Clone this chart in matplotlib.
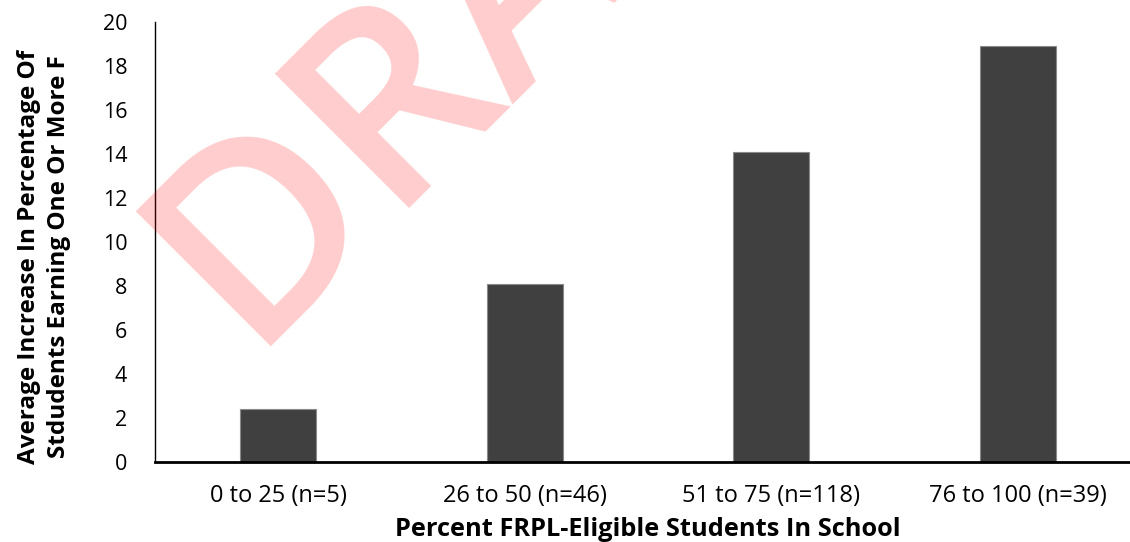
import matplotlib
matplotlib.use("Agg")
import matplotlib.pyplot as plt

categories = ["0 to 25 (n=5)", "26 to 50 (n=46)", "51 to 75 (n=118)", "76 to 100 (n=39)"]
avg_increase = [2.42, 8.09, 14.1, 18.92]
y_ticks = [0, 2, 4, 6, 8, 10, 12, 14, 16, 18, 20]

plt.rcParams["font.family"] = ["Open Sans", "DejaVu Sans"]

fig = plt.figure(figsize=(11.3, 5.42), dpi=100)
# plot area runs past the right edge, as in the exported chart
ax = fig.add_axes([155 / 1130, 80 / 542, 986 / 1130, 440 / 542])

x = range(len(categories))
ax.bar(x, avg_increase, width=0.31, color="#404040", edgecolor="#8a8a8a",
       linewidth=0.8, zorder=2)

ax.set_xlim(-0.5, 3.5)
ax.set_ylim(0, 20)
ax.set_yticks(y_ticks)
ax.set_xticks(list(x))
ax.set_xticklabels(categories)
ax.tick_params(axis="both", length=0, colors="black")
ax.tick_params(axis="y", labelsize=15.5, pad=20)
ax.tick_params(axis="x", labelsize=17, pad=16)

for side in ("top", "right"):
    ax.spines[side].set_visible(False)
ax.spines["left"].set_linewidth(1.0)
ax.spines["bottom"].set_linewidth(2.0)

ax.set_xlabel("Percent FRPL-Eligible Students In School", fontsize=18.3,
              fontweight="bold", labelpad=6)

# two-line y title, centred a little below the middle of the plot
fig.text(44 / 1130, 1 - 257 / 542,
         "Average Increase In Percentage Of\nStdudents Earning One Or More F",
         fontsize=17.5, fontweight="bold", linespacing=1.3, rotation=90,
         ha="center", va="center", multialignment="center")

# watermark across the plot
fig.text(246 / 1130, 1 - 347 / 542, "DRAFT", fontsize=193, fontweight="semibold",
         color="red", alpha=0.2, rotation=45, rotation_mode="anchor",
         ha="left", va="baseline", zorder=10)

fig.savefig("out.png", dpi=100)
